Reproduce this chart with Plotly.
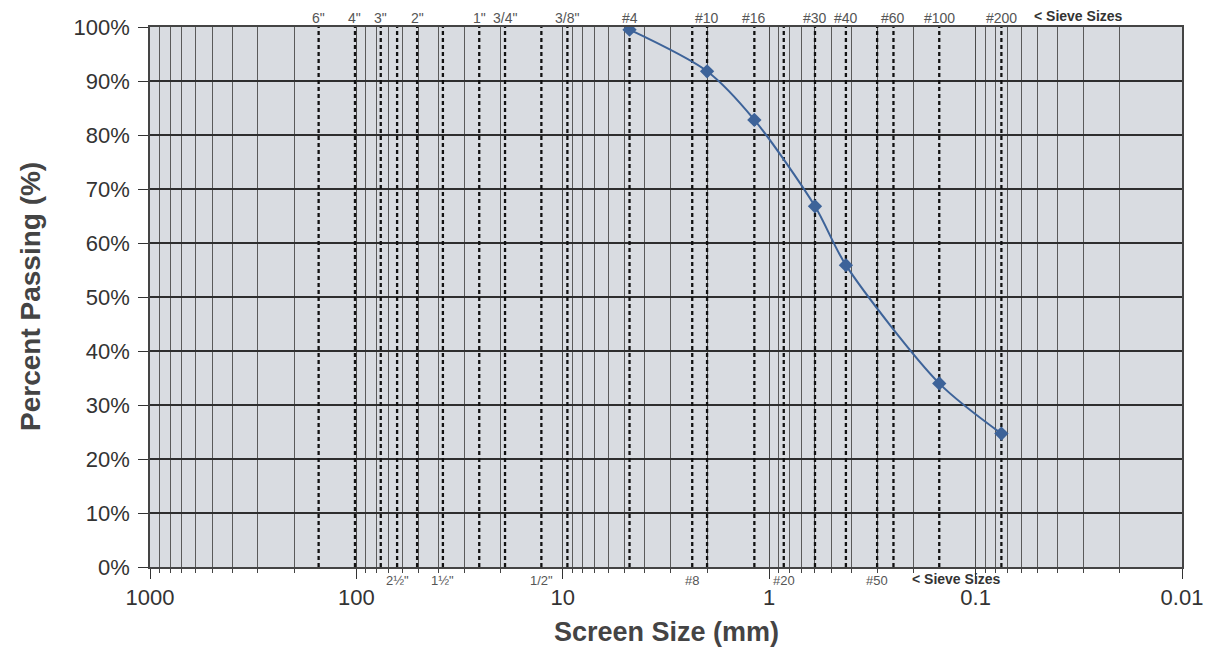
import math
import plotly.graph_objects as go

# ---- data ----
sample_sizes_mm = [4.75, 2.0, 1.18, 0.6, 0.425, 0.15, 0.075]
percent_passing = [99.5, 91.8, 82.8, 66.8, 55.9, 34.0, 24.7]

sieve_sizes_mm = [152.4, 101.6, 76.2, 63.5, 50.8, 38.1, 25.4, 19.05, 12.7, 9.5,
                  4.75, 2.36, 2.0, 1.18, 0.85, 0.6, 0.425, 0.3, 0.25, 0.15, 0.075]
top_sieve_labels = {152.4: '6"', 101.6: '4"', 76.2: '3"', 50.8: '2"', 25.4: '1"', 19.05: '3/4"',
                    9.5: '3/8"', 4.75: '#4', 2.0: '#10', 1.18: '#16', 0.6: '#30', 0.425: '#40',
                    0.25: '#60', 0.15: '#100', 0.075: '#200'}
bottom_sieve_labels = {63.5: '2½"', 38.1: '1½"', 12.7: '1/2"', 2.36: '#8', 0.85: '#20', 0.3: '#50'}

x_tick_vals = [1000, 100, 10, 1, 0.1, 0.01]
x_tick_text = ["1000", "100", "10", "1", "0.1", "0.01"]
y_tick_vals = [0, 10, 20, 30, 40, 50, 60, 70, 80, 90, 100]
y_tick_text = ["0%", "10%", "20%", "30%", "40%", "50%", "60%", "70%", "80%", "90%", "100%"]

fig = go.Figure()

# dashed sieve lines
for s in sieve_sizes_mm:
    fig.add_trace(go.Scatter(x=[s, s], y=[0, 100], mode="lines",
                             line=dict(color="#111111", width=2.3, dash="4px,3px"),
                             hoverinfo="skip", showlegend=False))

# gradation curve
fig.add_trace(go.Scatter(x=sample_sizes_mm, y=percent_passing, mode="lines+markers",
                         line=dict(color="#3d6399", width=2, shape="spline", smoothing=0.8),
                         marker=dict(symbol="diamond", size=11, color="#3d6399"),
                         showlegend=False))

annotations = []
for s, t in top_sieve_labels.items():
    annotations.append(dict(x=math.log10(s), y=1, xref="x", yref="paper", text=t,
                            showarrow=False, yanchor="bottom", yshift=-1,
                            font=dict(size=14, color="#555555", family="Liberation Sans")))
for s, t in bottom_sieve_labels.items():
    annotations.append(dict(x=math.log10(s), y=0, xref="x", yref="paper", text=t,
                            showarrow=False, yanchor="middle", yshift=-13,
                            font=dict(size=13, color="#555555", family="Liberation Sans")))
annotations.append(dict(x=math.log10(0.0316), y=1, xref="x", yref="paper", text="<b>&lt; Sieve Sizes</b>",
                        showarrow=False, yanchor="bottom", yshift=1,
                        font=dict(size=14, color="#333333", family="Liberation Sans")))
annotations.append(dict(x=math.log10(0.124), y=0, xref="x", yref="paper", text="<b>&lt; Sieve Sizes</b>",
                        showarrow=False, yanchor="middle", yshift=-12,
                        font=dict(size=14, color="#333333", family="Liberation Sans")))
# axis titles
annotations.append(dict(x=0, y=0.5, xref="paper", yref="paper", text="<b>Percent Passing (%)</b>",
                        textangle=-90, showarrow=False, xanchor="center", yanchor="middle", xshift=-120,
                        font=dict(size=28, color="#444444", family="Liberation Sans")))
annotations.append(dict(x=0.5, y=0, xref="paper", yref="paper", text="<b>Screen Size (mm)</b>",
                        showarrow=False, xanchor="center", yanchor="middle", yshift=-65,
                        font=dict(size=27, color="#444444", family="Liberation Sans")))

fig.update_layout(
    width=1214, height=653,
    margin=dict(l=150, r=32, t=27, b=86),
    paper_bgcolor="white",
    plot_bgcolor="#d9dce1",
    annotations=annotations,
    font=dict(family="Liberation Sans", color="#333333"),
    xaxis=dict(type="log", range=[3, -2], tickvals=x_tick_vals, ticktext=x_tick_text,
               showgrid=True, gridcolor="#4a4a4a", gridwidth=1,
               minor=dict(showgrid=True, gridcolor="#5a5a5a", gridwidth=1, dtick="D1",
                          ticks="outside", ticklen=4, tickcolor="#444444"),
               ticks="outside", ticklen=10, tickcolor="#333333",
               showline=True, linecolor="#444444", linewidth=1.5, mirror=True,
               tickfont=dict(size=22, color="#333333"), zeroline=False),
    yaxis=dict(range=[0, 100], tickvals=y_tick_vals, ticktext=y_tick_text,
               showgrid=True, gridcolor="#2e2e2e", gridwidth=1.6,
               ticks="outside", ticklen=10, tickcolor="#333333", ticklabelstandoff=4,
               showline=True, linecolor="#444444", linewidth=1.5, mirror=True,
               tickfont=dict(size=22, color="#333333"), zeroline=False),
)

fig.write_html("out.html", config={"displayModeBar": False},
               post_script="document.body.style.margin='0px';document.body.style.overflow='hidden';")
